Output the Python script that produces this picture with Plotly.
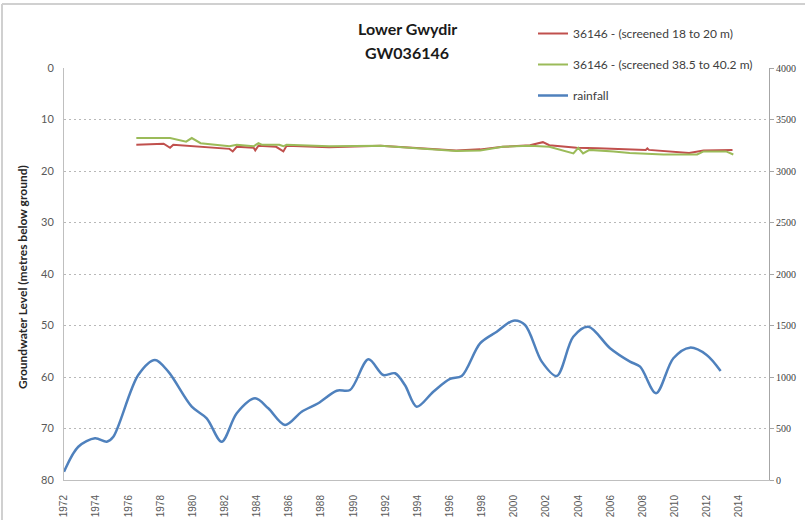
import plotly.graph_objects as go

# ---- data ----
rain_years = [1972.0, 1972.89, 1973.93, 1974.66, 1975.07, 1976.62, 1977.66, 1978.49, 1979.95, 1980.88,
              1981.81, 1982.75, 1983.89, 1984.71, 1985.75, 1986.79, 1987.82, 1988.97, 1989.80, 1990.94,
              1991.87, 1992.60, 1993.22, 1993.95, 1994.98, 1996.02, 1996.75, 1997.89, 1998.93, 1999.96,
              2000.69, 2001.73, 2002.66, 2003.69, 2004.63, 2005.98, 2007.22, 2007.85, 2008.84, 2009.92,
              2010.95, 2011.99, 2012.86]
rainfall = [81, 323, 405, 372, 420, 1019, 1165, 1052, 712, 599,
            372, 648, 793, 696, 534, 663, 745, 867, 874, 1172,
            1019, 1036, 920, 712, 857, 981, 1010, 1327, 1440, 1547,
            1505, 1149, 1010, 1391, 1488, 1279, 1149, 1100, 842, 1182,
            1285, 1214, 1058]

shallow_years = [1976.5, 1978.2, 1978.6, 1978.8, 1982.3, 1982.5, 1982.75, 1983.8, 1983.9, 1984.1,
                 1985.2, 1985.65, 1985.85, 1988.5, 1991.7, 1994.8, 1996.4, 1997.9, 1999.3, 2001.0,
                 2001.8, 2002.2, 2003.9, 2005.2, 2008.2, 2008.3, 2008.4, 2010.9, 2011.8, 2013.6]
shallow_level = [14.9, 14.7, 15.5, 14.9, 15.7, 16.2, 15.3, 15.5, 16.0, 15.1,
                 15.3, 16.2, 15.1, 15.4, 15.1, 15.7, 16.0, 15.8, 15.3, 15.0,
                 14.4, 15.0, 15.5, 15.6, 15.9, 15.6, 15.9, 16.5, 16.0, 15.9]

deep_years = [1976.5, 1978.6, 1979.6, 1979.95, 1980.5, 1982.3, 1982.75, 1983.8, 1984.1, 1984.3,
              1985.4, 1985.65, 1985.85, 1988.5, 1991.7, 1994.8, 1996.4, 1997.9, 1999.3, 2001.0,
              2002.2, 2003.7, 2004.0, 2004.3, 2004.7, 2006.2, 2007.2, 2009.3, 2011.4, 2011.8,
              2013.2, 2013.65]
deep_level = [13.6, 13.6, 14.3, 13.6, 14.6, 15.2, 14.9, 15.2, 14.6, 14.9,
              14.9, 15.2, 14.9, 15.2, 15.1, 15.8, 16.1, 16.0, 15.3, 15.1,
              15.3, 16.6, 15.5, 16.6, 15.9, 16.2, 16.5, 16.8, 16.8, 16.2,
              16.2, 16.8]

x_ticks = list(range(1972, 2016, 2))
left_ticks = list(range(0, 81, 10))
right_ticks = list(range(0, 4001, 500))

names = ["36146 - (screened 18 to 20 m)", "36146 - (screened 38.5 to 40.2 m)", "rainfall"]
title_lines = ["Lower Gwydir", "GW036146"]
y_title = "Groundwater Level (metres below ground)"

# plot-area geometry in pixels (for placing annotations)
L, R, T, B = 64, 769, 68, 480
PW, PH = R - L, B - T


def px(xp):
    return (xp - L) / PW


def py(yp):
    return (B - yp) / PH


fig = go.Figure()
fig.add_trace(go.Scatter(x=shallow_years, y=shallow_level, mode="lines", name=names[0],
                         line=dict(color="#C0504D", width=2), legendgroup="a"))
fig.add_trace(go.Scatter(x=deep_years, y=deep_level, mode="lines", name=names[1],
                         line=dict(color="#9BBB59", width=2), legendgroup="b"))
fig.add_trace(go.Scatter(x=rain_years, y=rainfall, mode="lines", name=names[2], yaxis="y2",
                         line=dict(color="#4F81BD", width=2.5, shape="spline", smoothing=0.9),
                         legendgroup="c"))

grid = "#B8B8B8"
axis_line = "#BFBFBF"
fig.update_layout(
    width=805, height=520,
    margin=dict(l=L, r=805 - R, t=T, b=520 - B, autoexpand=False),
    paper_bgcolor="white", plot_bgcolor="white",
    font=dict(family="Lato, Liberation Sans, sans-serif", color="#404040"),
    showlegend=True,
    legend=dict(x=px(533), y=py(19), xanchor="left", yanchor="top", bgcolor="rgba(0,0,0,0)",
                font=dict(size=12, color="#404040", family="Lato, sans-serif"),
                tracegroupgap=12),
    xaxis=dict(range=[1972, 2015.87], tickvals=x_ticks, ticktext=[str(v) for v in x_ticks],
               tickangle=-90, showgrid=False, zeroline=False, showline=True, linecolor=axis_line,
               linewidth=1, ticks="", automargin=False, ticklabelstandoff=10,
               tickfont=dict(size=10, color="#595959", family="Liberation Sans")),
    yaxis=dict(range=[80, 0], tickvals=left_ticks, showgrid=True, gridcolor=grid,
               griddash="2px,3px", gridwidth=1, zeroline=False, showline=True, linecolor=axis_line,
               ticks="", automargin=False, ticklabelstandoff=7,
               tickfont=dict(size=11, color="#595959")),
    yaxis2=dict(range=[0, 4000], tickvals=right_ticks, overlaying="y", side="right",
                showgrid=False, zeroline=False, showline=True, linecolor="#A6A6A6",
                ticks="outside", ticklen=4, tickcolor="#A6A6A6", automargin=False,
                tickfont=dict(size=10, color="#404040", family="Liberation Serif")),
)

fig.add_annotation(text="<b>" + y_title + "</b>", xref="paper", yref="paper",
                   x=px(22), y=py(277), xanchor="center", yanchor="middle", textangle=-90,
                   showarrow=False, font=dict(size=12, color="#262626"))
fig.add_annotation(text="<b>" + title_lines[0] + "</b>", xref="paper", yref="paper",
                   x=px(407), y=py(28), xanchor="center", yanchor="middle",
                   showarrow=False, font=dict(size=16, color="#1a1a1a"))
fig.add_annotation(text="<b>" + title_lines[1] + "</b>", xref="paper", yref="paper",
                   x=px(407), y=py(52), xanchor="center", yanchor="middle",
                   showarrow=False, font=dict(size=16, color="#1a1a1a"))

# outer chart border (top and left edges)
fig.add_shape(type="line", xref="paper", yref="paper", x0=px(2), x1=px(805),
              y0=py(4), y1=py(4), line=dict(color="#D0D0D0", width=2))
fig.add_shape(type="line", xref="paper", yref="paper", x0=px(2), x1=px(2),
              y0=py(4), y1=py(520), line=dict(color="#D0D0D0", width=2))

fig.write_html("out.html", config={"displayModeBar": False},
               post_script="document.body.style.margin='0';document.body.style.overflow='hidden';")
